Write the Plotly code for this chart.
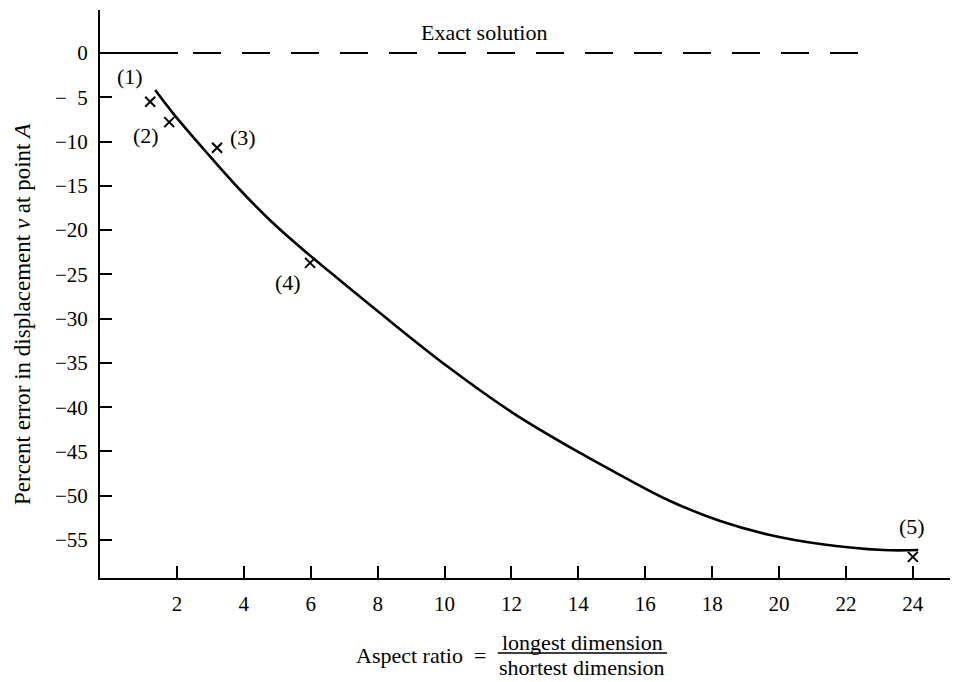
import plotly.graph_objects as go

# data
curve_x = [1.35, 1.88, 2.90, 3.89, 4.87, 5.89, 6.79, 8.07, 10.07, 12.05, 14.05, 15.25,
           16.74, 18.24, 19.73, 21.23, 23.11, 24.16]
curve_y = [-4.18, -6.78, -11.29, -15.47, -19.2, -22.59, -25.41, -29.36, -35.35, -40.66, -45.17, -47.66,
           -50.59, -52.85, -54.43, -55.45, -56.13, -56.13]

point_x = [1.2, 1.77, 3.2, 5.98, 24.0]
point_y = [-5.5, -7.8, -10.7, -23.7, -56.9]
point_labels = ["(1)", "(2)", "(3)", "(4)", "(5)"]
label_x = [0.6, 1.08, 3.98, 5.32, 23.97]
label_y = [-2.6, -9.3, -9.5, -25.9, -53.5]

exact_x = [-0.3, 22.6]
exact_y = [0, 0]

x_ticks = [2, 4, 6, 8, 10, 12, 14, 16, 18, 20, 22, 24]
y_ticks = [0, -5, -10, -15, -20, -25, -30, -35, -40, -45, -50, -55]
y_ticktext = ["0" if v == 0 else ("\u2212\u00a0\u00a0" + str(-v) if v > -10 else "\u2212" + str(-v))
              for v in y_ticks]

FONT = "Liberation Serif, Times New Roman, serif"
TEXT = dict(family=FONT, size=22, color="black")

fig = go.Figure()

# exact solution: long first dash then regular dashes
dash_pattern = "78px,15px," + ",".join(["28px,21px"] * 16)
fig.add_trace(go.Scatter(x=exact_x, y=exact_y, mode="lines",
                         line=dict(color="black", width=2, dash=dash_pattern),
                         hoverinfo="skip"))

fig.add_trace(go.Scatter(x=curve_x, y=curve_y, mode="lines",
                         line=dict(color="black", width=2.6, shape="spline", smoothing=1.0),
                         hoverinfo="skip"))

fig.add_trace(go.Scatter(x=point_x, y=point_y, mode="markers",
                         marker=dict(symbol="x-thin", size=10, color="black",
                                     line=dict(color="black", width=2)),
                         hoverinfo="skip"))

for lx, ly, txt in zip(label_x, label_y, point_labels):
    fig.add_annotation(x=lx, y=ly, text=txt, showarrow=False, font=TEXT)

fig.add_annotation(x=11.18, y=2.37, text="Exact solution", showarrow=False, font=TEXT)

# y axis title
fig.add_annotation(xref="paper", yref="paper", x=0, y=0.5, xshift=-78, yshift=-20,
                   text="Percent error in displacement <i>v</i> at point <i>A</i>",
                   textangle=-90, showarrow=False, xanchor="center", yanchor="middle",
                   font=dict(family=FONT, size=23, color="black"))

# x axis title as a fraction
fig.add_annotation(xref="paper", yref="paper", x=0, y=0, xshift=321, yshift=-77,
                   text="Aspect ratio  =", showarrow=False, xanchor="center", yanchor="middle",
                   font=TEXT)
fig.add_annotation(xref="paper", yref="paper", x=0, y=0, xshift=482, yshift=-64,
                   text="longest dimension", showarrow=False, xanchor="center", yanchor="middle",
                   font=TEXT)
fig.add_annotation(xref="paper", yref="paper", x=0, y=0, xshift=482, yshift=-89,
                   text="shortest dimension", showarrow=False, xanchor="center", yanchor="middle",
                   font=TEXT)
fig.add_shape(type="line", xref="paper", yref="paper", x0=0.468, x1=0.667, y0=-0.132, y1=-0.132,
              line=dict(color="black", width=1.5))

fig.update_layout(
    width=954, height=674,
    margin=dict(l=92, r=12, t=2, b=104),
    paper_bgcolor="white", plot_bgcolor="white",
    showlegend=False,
    font=dict(family=FONT, size=21, color="black"),
)

fig.update_xaxes(range=[-0.3, 25.11], tickvals=x_ticks, ticks="inside", ticklen=12,
                 tickwidth=1.5, tickcolor="black", showline=True, linecolor="black",
                 linewidth=2, showgrid=False, zeroline=False, ticklabelstandoff=6,
                 tickfont=dict(family=FONT, size=21, color="black"))
fig.update_yaxes(range=[-59.29, 4.86], tickvals=y_ticks, ticktext=y_ticktext, ticks="inside",
                 ticklen=12, tickwidth=1.5, tickcolor="black", showline=True, linecolor="black",
                 linewidth=2, showgrid=False, zeroline=False, ticklabelstandoff=6,
                 tickfont=dict(family=FONT, size=21, color="black"))

fig.write_html("out.html")
